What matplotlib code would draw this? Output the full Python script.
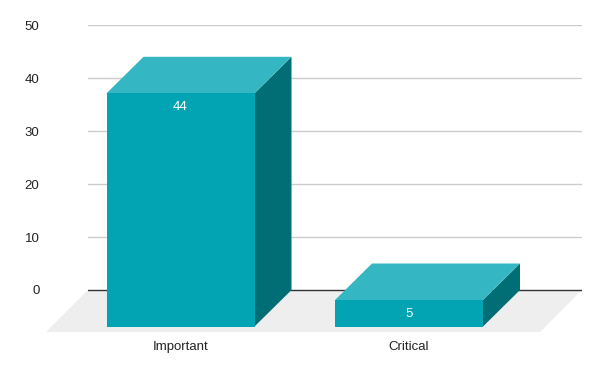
import matplotlib
matplotlib.use("Agg")
import matplotlib.pyplot as plt
from matplotlib.patches import Polygon, Rectangle

plt.rcParams['font.family'] = ['Liberation Sans', 'DejaVu Sans']

categories = ['Important', 'Critical']
values = [44, 5]
y_ticks = [0, 10, 20, 30, 40, 50]

front_color = '#02a4b4'
top_color = '#35b7c3'
side_color = '#016e75'
floor_color = '#eeeeee'

# figure geometry (pixels in a 600x371 canvas)
W, H = 600, 371
px_left, px_right = 88, 582
px_top, px_bottom = 25, 332
px_zero = 290

px_per_unit_y = (px_zero - px_top) / 50.0
px_per_cat = 228.5
back_center0 = 217.5

fig = plt.figure(figsize=(W / 100, H / 100), dpi=100)
ax = fig.add_axes([px_left / W, (H - px_bottom) / H,
                   (px_right - px_left) / W, (px_bottom - px_top) / H])

ymin = -(px_bottom - px_zero) / px_per_unit_y
ax.set_ylim(ymin, 50)
xl = (px_left - back_center0) / px_per_cat
xr = (px_right - back_center0) / px_per_cat
ax.set_xlim(xl, xr)

bar_w = 148 / px_per_cat
dx = 37 / px_per_cat
dy = 36.5 / px_per_unit_y
fdx = 42 / px_per_cat
fdy = 42 / px_per_unit_y

for s in ax.spines.values():
    s.set_visible(False)

# floor
ax.add_patch(Polygon([(xl, 0), (xr, 0), (xr - fdx, -fdy), (xl - fdx, -fdy)],
                     closed=True, facecolor=floor_color, edgecolor='none',
                     zorder=0.5, clip_on=False))

# gridlines
for t in y_ticks[1:]:
    ax.axhline(t, color='#cccccc', linewidth=1, zorder=1)
ax.axhline(0, color='#333333', linewidth=1, zorder=1)

for i, v in enumerate(values):
    x0 = i - bar_w / 2
    # side
    ax.add_patch(Polygon([(x0 + bar_w - dx, -dy), (x0 + bar_w, 0),
                          (x0 + bar_w, v), (x0 + bar_w - dx, v - dy)],
                         closed=True, facecolor=side_color, edgecolor='none', zorder=2))
    # top
    ax.add_patch(Polygon([(x0 - dx, v - dy), (x0 + bar_w - dx, v - dy),
                          (x0 + bar_w, v), (x0, v)],
                         closed=True, facecolor=top_color, edgecolor='none', zorder=2))
    # front
    ax.add_patch(Rectangle((x0 - dx, -dy), bar_w, v, facecolor=front_color,
                           edgecolor='none', zorder=3))
    ax.annotate(f'{v}', (i - dx, v - dy), xytext=(0, -10), textcoords='offset points',
                ha='center', va='center', color='white', fontsize=9.5, zorder=4)

ax.set_yticks(y_ticks)
ax.set_yticklabels([str(t) for t in y_ticks])
ax.tick_params(axis='y', length=0, pad=35, labelsize=9.5, labelcolor='#222222')

ax.set_xticks([i - dx for i in range(len(categories))])
ax.set_xticklabels(categories)
ax.tick_params(axis='x', length=0, pad=6.5, labelsize=9.5, labelcolor='#222222')

fig.savefig('out.png', dpi=100, facecolor='white')
